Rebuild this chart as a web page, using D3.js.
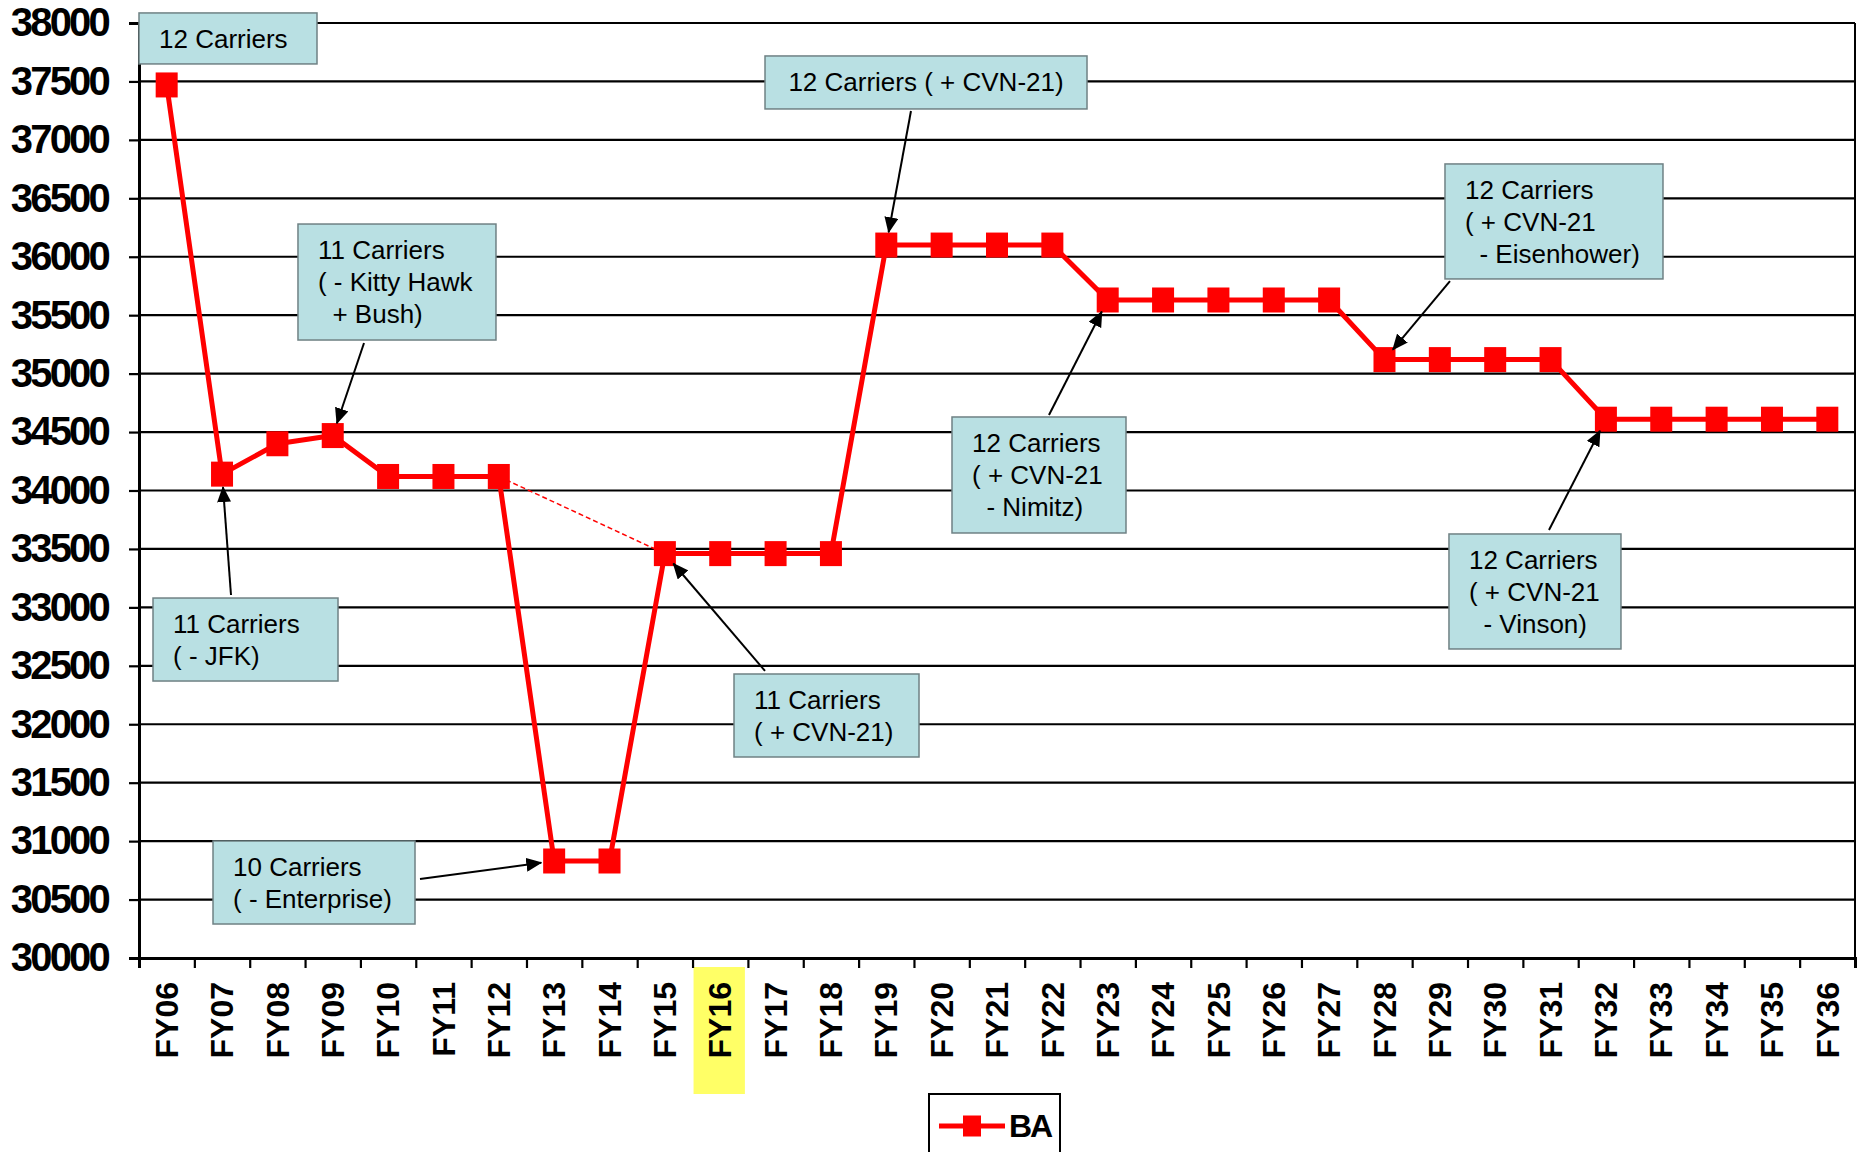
<!DOCTYPE html>
<html>
<head>
<meta charset="utf-8">
<script src="https://cdn.jsdelivr.net/npm/d3@7"></script>
<style>
  html, body { margin: 0; padding: 0; background: #fff; }
  svg { display: block; font-family: "Liberation Sans", Arial, sans-serif; }
</style>
</head>
<body>
<div id="chart"></div>
<script>
// Fiscal years on the x axis
const years = ['FY06', 'FY07', 'FY08', 'FY09', 'FY10', 'FY11', 'FY12', 'FY13', 'FY14', 'FY15',
    'FY16', 'FY17', 'FY18', 'FY19', 'FY20', 'FY21', 'FY22', 'FY23', 'FY24', 'FY25', 'FY26',
    'FY27', 'FY28', 'FY29', 'FY30', 'FY31', 'FY32', 'FY33', 'FY34', 'FY35', 'FY36'];

// BA series, one value per fiscal year
const baValues = [37470, 34140, 34400, 34470, 34120, 34120, 34120, 30830, 30830, 33460,
    33460, 33460, 33460, 36100, 36100, 36100, 36100, 35630, 35630, 35630, 35630,
    35630, 35120, 35120, 35120, 35120, 34610, 34610, 34610, 34610, 34610];

// y axis tick values
const yTicks = d3.range(30000, 38001, 500);

// highlighted year label and the dashed shortcut between two years
const highlightYear = 'FY16';
const dashedLink = ['FY12', 'FY15'];

// callout texts and the year each one points at
const calloutText = [
    ['12 Carriers'],
    ['11 Carriers', '( - Kitty Hawk', '  + Bush)'],
    ['12 Carriers ( + CVN-21)'],
    ['12 Carriers', '( + CVN-21', '  - Eisenhower)'],
    ['12 Carriers', '( + CVN-21', '  - Nimitz)'],
    ['12 Carriers', '( + CVN-21', '  - Vinson)'],
    ['11 Carriers', '( - JFK)'],
    ['10 Carriers', '( - Enterprise)'],
    ['11 Carriers', '( + CVN-21)']
];
const calloutTarget = [null, 'FY09', 'FY19', 'FY28', 'FY23', 'FY32', 'FY07', 'FY13', 'FY15'];

// callout layout: box corner in (fractional category, value) units, size in px,
// arrow start in the same data units
const calloutLayout = [
    { f: -0.5,   v: 38086, w: 178, h: 51,  center: false },
    { f: 2.372,  v: 36280, w: 198, h: 116, af: 3.565,  av: 35262 },
    { f: 10.809, v: 37718, w: 322, h: 53,  af: 13.446, av: 37247, center: true },
    { f: 23.093, v: 36794, w: 218, h: 115, af: 23.183, av: 35792 },
    { f: 14.187, v: 34629, w: 174, h: 116, af: 15.939, av: 34646 },
    { f: 23.165, v: 33628, w: 172, h: 115, af: 24.972, av: 33662 },
    { f: -0.247, v: 33080, w: 185, h: 83,  af: 1.162,  av: 33106 },
    { f: 0.837,  v: 31001, w: 202, h: 83,  af: 4.576,  av: 30676 },
    { f: 10.249, v: 32430, w: 185, h: 83,  af: 10.809, av: 32456 }
];

function createChart(container) {
    const width = 1860;
    const height = 1152;
    const plot = { left: 139, right: 1855, top: 23, bottom: 958 };

    const svg = d3.select(container).append('svg')
        .attr('width', width)
        .attr('height', height);

    // arrow head for the callouts
    svg.append('defs').append('marker')
        .attr('id', 'arrow')
        .attr('markerUnits', 'userSpaceOnUse')
        .attr('viewBox', '0 0 16 14')
        .attr('refX', 15)
        .attr('refY', 7)
        .attr('markerWidth', 16)
        .attr('markerHeight', 14)
        .attr('orient', 'auto')
        .append('path')
        .attr('d', 'M0,0 L16,7 L0,14 Z')
        .attr('fill', '#000');

    // Scales
    const x = d3.scaleBand().domain(years).range([plot.left, plot.right]);
    const xf = d3.scaleLinear().domain([-0.5, years.length - 0.5]).range([plot.left, plot.right]); // fractional category
    const y = d3.scaleLinear().domain([30000, 38000]).range([plot.bottom, plot.top]);
    const cx = d => x(d) + x.bandwidth() / 2;

    // Yellow highlight behind one year label
    svg.append('rect')
        .attr('x', x(highlightYear) + 1)
        .attr('y', plot.bottom + 9)
        .attr('width', x.bandwidth() - 4)
        .attr('height', 127)
        .attr('fill', '#ffff66');

    // Horizontal gridlines
    svg.append('g')
        .selectAll('line')
        .data(yTicks.filter(d => d > 30000))
        .join('line')
        .attr('x1', plot.left)
        .attr('x2', plot.right)
        .attr('y1', d => y(d))
        .attr('y2', d => y(d))
        .attr('stroke', '#000')
        .attr('stroke-width', 2.2);

    // Right border
    svg.append('line')
        .attr('x1', plot.right).attr('x2', plot.right)
        .attr('y1', plot.top).attr('y2', plot.bottom)
        .attr('stroke', '#000')
        .attr('stroke-width', 2);

    // Y axis
    const yAxis = svg.append('g')
        .attr('transform', `translate(${plot.left},0)`)
        .call(d3.axisLeft(y).tickValues(yTicks).tickSize(10).tickPadding(21).tickFormat(d3.format('d')));
    yAxis.select('.domain').attr('stroke-width', 3);
    yAxis.selectAll('.tick line').attr('stroke-width', 2.2);
    yAxis.selectAll('text')
        .attr('fill', '#000')
        .style('font-size', '40px')
        .style('font-weight', 'bold')
        .style('letter-spacing', '-2.8px')
        .style('font-family', '"Liberation Sans", Arial, sans-serif');

    // X axis: ticks on category boundaries
    const xAxis = svg.append('g')
        .attr('transform', `translate(0,${plot.bottom})`)
        .call(d3.axisBottom(xf).tickValues(d3.range(-0.5, years.length, 1)).tickSize(10).tickFormat(''));
    xAxis.select('.domain').attr('stroke-width', 3);
    xAxis.selectAll('.tick line').attr('stroke-width', 2.2);

    // X labels, rotated
    svg.append('g')
        .selectAll('text')
        .data(years)
        .join('text')
        .attr('transform', d => `translate(${cx(d)},${plot.bottom + 24}) rotate(-90)`)
        .attr('text-anchor', 'end')
        .attr('dy', '0.35em')
        .style('font-size', '32px')
        .style('font-weight', 'bold')
        .attr('fill', '#000')
        .text(d => d);

    // Dashed shortcut line
    const i0 = years.indexOf(dashedLink[0]);
    const i1 = years.indexOf(dashedLink[1]);
    svg.append('line')
        .attr('x1', cx(years[i0])).attr('y1', y(baValues[i0]))
        .attr('x2', cx(years[i1])).attr('y2', y(baValues[i1]))
        .attr('stroke', '#ff0000')
        .attr('stroke-width', 1.5)
        .attr('stroke-dasharray', '5,3');

    // BA line
    const line = d3.line()
        .x((d, i) => cx(years[i]))
        .y(d => y(d));
    svg.append('path')
        .datum(baValues)
        .attr('d', line)
        .attr('fill', 'none')
        .attr('stroke', '#ff0000')
        .attr('stroke-width', 5)
        .attr('stroke-linejoin', 'round');

    // Square markers
    const mw = 22, mh = 25;
    svg.append('g')
        .selectAll('rect')
        .data(baValues)
        .join('rect')
        .attr('x', (d, i) => cx(years[i]) - mw / 2)
        .attr('y', d => y(d) - mh / 2)
        .attr('width', mw)
        .attr('height', mh)
        .attr('fill', '#ff0000');

    // Callouts: arrows first, then boxes
    const callouts = calloutText.map((lines, i) => Object.assign({ lines, target: calloutTarget[i] }, calloutLayout[i]));

    svg.append('g')
        .selectAll('line')
        .data(callouts.filter(c => c.target))
        .join('line')
        .each(function(c) {
            const ti = years.indexOf(c.target);
            const sx = xf(c.af), sy = y(c.av);
            const tx = cx(c.target), ty = y(baValues[ti]);
            const len = Math.hypot(tx - sx, ty - sy);
            const off = 13;
            d3.select(this)
                .attr('x1', sx).attr('y1', sy)
                .attr('x2', tx - (tx - sx) / len * off)
                .attr('y2', ty - (ty - sy) / len * off);
        })
        .attr('stroke', '#000')
        .attr('stroke-width', 2)
        .attr('marker-end', 'url(#arrow)');

    const boxes = svg.append('g')
        .selectAll('g')
        .data(callouts)
        .join('g')
        .attr('transform', c => `translate(${xf(c.f)},${y(c.v)})`);

    boxes.append('rect')
        .attr('width', c => c.w)
        .attr('height', c => c.h)
        .attr('fill', '#b9e0e3')
        .attr('stroke', '#6f8184')
        .attr('stroke-width', 1.5);

    boxes.each(function(c) {
        d3.select(this).selectAll('text')
            .data(c.lines)
            .join('text')
            .attr('x', c.center ? c.w / 2 : 20)
            .attr('y', (d, i) => 26 + i * 32)
            .attr('dy', '0.35em')
            .attr('text-anchor', c.center ? 'middle' : 'start')
            .style('font-size', '26px')
            .style('white-space', 'pre')
            .attr('fill', '#000')
            .text(d => d);
    });

    // Legend
    const legend = svg.append('g').attr('transform', 'translate(929,1094)');
    legend.append('rect')
        .attr('width', 131)
        .attr('height', 80)
        .attr('fill', '#fff')
        .attr('stroke', '#000')
        .attr('stroke-width', 2);
    legend.append('line')
        .attr('x1', 10).attr('x2', 76)
        .attr('y1', 32).attr('y2', 32)
        .attr('stroke', '#ff0000')
        .attr('stroke-width', 5);
    legend.append('rect')
        .attr('x', 43 - 9).attr('y', 32 - 10.5)
        .attr('width', 18).attr('height', 21)
        .attr('fill', '#ff0000');
    legend.append('text')
        .attr('x', 80)
        .attr('y', 43)
        .style('font-size', '32px')
        .style('font-weight', 'bold')
        .style('letter-spacing', '-2px')
        .attr('fill', '#000')
        .text('BA');
}

createChart('#chart');
</script>
</body>
</html>
